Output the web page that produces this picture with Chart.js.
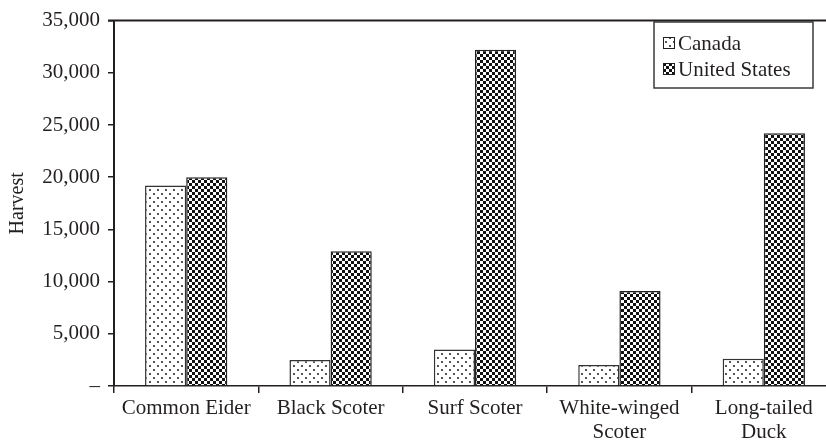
<!DOCTYPE html>
<html>
<head>
<meta charset="utf-8">
<script src="https://cdn.jsdelivr.net/npm/chart.js@4"></script>
<style>
html,body{margin:0;padding:0;background:#fff;overflow:hidden;width:826px;height:443px;}
canvas{display:block;}
</style>
</head>
<body>
<canvas id="c" width="836" height="443"></canvas>
<script>
const categories = [['Common Eider'], ['Black Scoter'], ['Surf Scoter'], ['White-winged', 'Scoter'], ['Long-tailed', 'Duck']];
const seriesNames = ['Canada', 'United States'];
const canada = [19200, 2500, 3500, 2000, 2600];
const unitedStates = [20000, 12900, 32200, 9100, 24200];
const yTicks = [0, 5000, 10000, 15000, 20000, 25000, 30000, 35000];

const FONT = "'Liberation Serif', 'Times New Roman', serif";
const INK = '#231f20';

function dotPattern() {
  const t = document.createElement('canvas');
  t.width = 8; t.height = 8;
  const g = t.getContext('2d');
  g.fillStyle = '#fff'; g.fillRect(0, 0, 8, 8);
  g.fillStyle = '#555';
  g.fillRect(1, 1, 2, 2);
  g.fillRect(5, 5, 2, 2);
  return g.createPattern(t, 'repeat');
}
function checkPattern() {
  const t = document.createElement('canvas');
  t.width = 6; t.height = 6;
  const g = t.getContext('2d');
  g.fillStyle = '#fff'; g.fillRect(0, 0, 6, 6);
  g.fillStyle = '#111';
  g.fillRect(0, 0, 3, 3);
  g.fillRect(3, 3, 3, 3);
  return g.createPattern(t, 'repeat');
}
const pDots = dotPattern();
const pCheck = checkPattern();

const extras = {
  id: 'extras',
  afterDraw(chart) {
    const ctx = chart.ctx;
    const a = chart.chartArea;
    ctx.save();
    ctx.strokeStyle = INK;
    ctx.lineWidth = 2;
    ctx.beginPath();
    ctx.moveTo(a.left - 6, a.top);
    ctx.lineTo(chart.width, a.top);
    ctx.stroke();
    const bx = 654, by = 22, bw = 159, bh = 66;
    ctx.fillStyle = '#fff';
    ctx.fillRect(bx, by, bw, bh);
    ctx.strokeStyle = '#3a3a3a';
    ctx.lineWidth = 1.5;
    ctx.strokeRect(bx, by, bw, bh);
    const fills = [pDots, pCheck];
    ctx.font = '21px ' + FONT;
    ctx.textBaseline = 'alphabetic';
    ctx.textAlign = 'left';
    chart.data.datasets.forEach((ds, i) => {
      const y = by + 15 + i * 26;
      ctx.fillStyle = fills[i];
      ctx.fillRect(bx + 9, y, 12, 12);
      ctx.strokeStyle = INK;
      ctx.lineWidth = 1;
      ctx.strokeRect(bx + 9.5, y + 0.5, 11, 11);
      ctx.fillStyle = INK;
      ctx.fillText(ds.label, bx + 24, y + 13);
    });
    ctx.restore();
  }
};

new Chart(document.getElementById('c'), {
  type: 'bar',
  data: {
    labels: categories,
    datasets: [
      { label: seriesNames[0], data: canada, backgroundColor: pDots, borderColor: '#333', borderWidth: 1.5 },
      { label: seriesNames[1], data: unitedStates, backgroundColor: pCheck, borderColor: '#222', borderWidth: 1.5 }
    ]
  },
  options: {
    responsive: false,
    animation: false,
    devicePixelRatio: 1,
    layout: { padding: { top: 15, right: 0, bottom: 0, left: 0 } },
    datasets: { bar: { categoryPercentage: 0.57, barPercentage: 1.0 } },
    plugins: { legend: { display: false }, tooltip: { enabled: false } },
    scales: {
      x: {
        offset: true,
        grid: { offset: true, drawOnChartArea: false, drawTicks: true, tickLength: 7, color: INK, lineWidth: 1.5 },
        border: { display: true, color: INK, width: 1.5 },
        ticks: { color: INK, font: { family: FONT, size: 21, lineHeight: 1.12 }, padding: 4, maxRotation: 0, autoSkip: false },
        afterFit(s) { s.height = 57; }
      },
      y: {
        min: 0,
        max: 35000,
        afterBuildTicks(s) { s.ticks = yTicks.map(v => ({ value: v })); },
        grid: { drawOnChartArea: false, drawTicks: true, tickLength: 6, color: INK, lineWidth: 1.5 },
        border: { display: true, color: INK, width: 2 },
        ticks: {
          color: INK,
          font: { family: FONT, size: 21 },
          padding: 8,
          callback: v => v === 0 ? '\u2013' : v.toLocaleString('en-US')
        },
        title: { display: true, text: 'Harvest', color: INK, font: { family: FONT, size: 20 }, padding: { top: 6, bottom: 0 } },
        afterFit(s) { s.width = 114; }
      }
    }
  },
  plugins: [extras]
});
</script>
</body>
</html>
